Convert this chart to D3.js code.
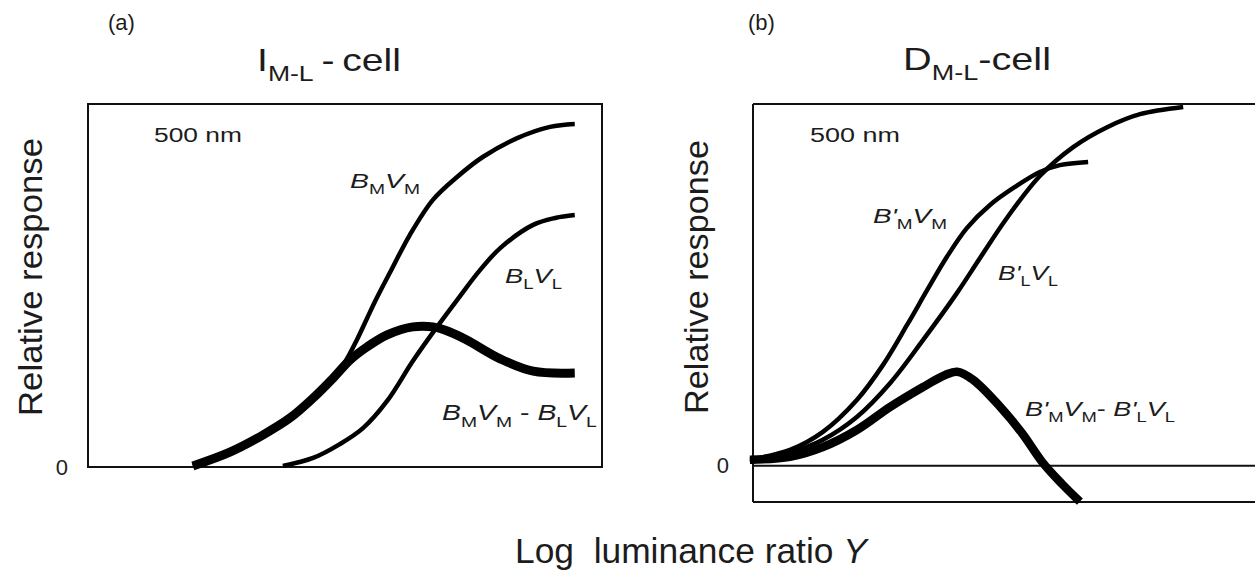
<!DOCTYPE html>
<meta charset="utf-8">
<script src="https://d3js.org/d3.v7.min.js"></script>
<style>
  body { margin: 0; background: #fff; }
  text { font-family: "Liberation Sans", Arial, sans-serif; fill: #1c1c1c; }
</style>
<div id="chart"></div>
<script>

// panel (a) I(M-L)-cell : x = log luminance ratio (box units 0-100), y = relative response (0-100)
const a_bmvm_x = [20.4, 27.6, 34.0, 39.3, 43.8, 47.7, 50.0, 52.3, 54.3, 56.2, 58.8, 62.6, 67.1, 71.8, 76.8, 83.5, 89.9, 94.7];
const a_bmvm_y = [0.3, 4.1, 8.8, 13.5, 19.0, 24.5, 28.9, 35.0, 41.0, 46.6, 53.7, 63.9, 73.6, 79.9, 85.4, 90.6, 93.7, 94.5];
const a_blvl_x = [37.9, 43.8, 49.0, 53.5, 58.2, 63.2, 67.9, 71.8, 76.3, 80.2, 86.6, 90.9, 94.7];
const a_blvl_y = [0.3, 2.5, 6.3, 10.7, 18.2, 29.2, 38.6, 46.0, 54.3, 60.3, 66.7, 68.6, 69.4];
const a_diff_x = [20.4, 27.6, 34.0, 39.3, 43.8, 47.7, 51.0, 54.3, 58.2, 63.2, 67.1, 70.4, 73.7, 80.2, 86.6, 94.7];
const a_diff_y = [0.3, 4.1, 8.8, 13.5, 19.0, 24.5, 29.5, 33.1, 36.4, 38.6, 38.6, 37.2, 35.0, 29.8, 26.4, 25.9];

// panel (b) D(M-L)-cell
const b_bmvm_x = [-0.6, 7.2, 13.6, 20.2, 25.3, 30.0, 33.9, 37.7, 41.6, 46.1, 51.0, 55.8, 59.7, 65.2];
const b_bmvm_y = [1.7, 4.4, 9.4, 18.2, 27.9, 39.0, 48.6, 57.7, 65.7, 72.1, 77.1, 81.2, 83.1, 84.0];
const b_blvl_x = [-0.6, 7.2, 13.6, 20.2, 26.7, 33.1, 39.7, 44.2, 49.4, 55.8, 62.3, 68.9, 75.3, 83.7];
const b_blvl_y = [1.1, 3.6, 7.2, 13.5, 22.9, 34.8, 47.8, 57.5, 68.5, 80.1, 88.1, 93.6, 97.2, 99.2];
const b_diff_x = [-0.6, 7.2, 13.6, 20.2, 26.7, 33.1, 37.4, 39.7, 42.8, 48.1, 52.3, 56.4, 60.1, 63.6];
const b_diff_y = [1.7, 2.5, 5.2, 9.9, 16.3, 21.8, 25.1, 26.0, 23.8, 16.3, 9.1, 0.8, -5.0, -9.9];

const zeroTick = [0];

var W = 1255, H = 572;

var svg = d3.select("#chart").append("svg")
    .attr("width", W)
    .attr("height", H);

svg.append("rect").attr("width", W).attr("height", H).attr("fill", "#fff");

var xa = d3.scaleLinear().domain([0, 100]).range([88, 602]);
var ya = d3.scaleLinear().domain([0, 100]).range([467, 104]);
var xb = d3.scaleLinear().domain([0, 100]).range([753, 1267]);
var yb = d3.scaleLinear().domain([-10, 100]).range([502, 104]);

function zip(xs, ys) { return xs.map((x, i) => [x, ys[i]]); }

// text with subscripts, stretched horizontally to the width seen in the picture
// parts: [string, kind]  kind: n normal, i italic, s subscript
function label(x, y, parts, size, width, opts) {
  opts = opts || {};
  var g = svg.append("g");
  var t = g.append("text").attr("font-size", size);
  if (opts.anchor) t.attr("text-anchor", opts.anchor);
  var down = 0;
  parts.forEach(function(p) {
    var ts = t.append("tspan").text(p[0]);
    if (p[1] == "i") ts.attr("font-style", "italic");
    if (p[1] == "s") {
      ts.attr("font-size", size * 0.68).attr("dy", size * 0.3 - down);
      down = size * 0.3;
    } else if (down) {
      ts.attr("dy", -down);
      down = 0;
    }
  });
  var w = t.node().getComputedTextLength();
  var sx = width ? width / w : 1;
  var rot = opts.rotate ? " rotate(" + opts.rotate + ")" : "";
  g.attr("transform", "translate(" + x + "," + y + ")" + rot + " scale(" + sx + ",1)");
  return g;
}

var lineA = d3.line().x(d => xa(d[0])).y(d => ya(d[1])).curve(d3.curveCatmullRom.alpha(0.5));
var lineB = d3.line().x(d => xb(d[0])).y(d => yb(d[1])).curve(d3.curveCatmullRom.alpha(0.5));

// ---- panel (a)
svg.append("rect")
  .attr("x", xa(0)).attr("y", ya(100))
  .attr("width", xa(100) - xa(0)).attr("height", ya(0) - ya(100))
  .attr("fill", "none").attr("stroke", "#111").attr("stroke-width", 2);

svg.append("path").datum(zip(a_diff_x, a_diff_y)).attr("d", lineA)
  .attr("fill", "none").attr("stroke", "#000").attr("stroke-width", 9);
svg.append("path").datum(zip(a_bmvm_x, a_bmvm_y)).attr("d", lineA)
  .attr("fill", "none").attr("stroke", "#000").attr("stroke-width", 4.5);
svg.append("path").datum(zip(a_blvl_x, a_blvl_y)).attr("d", lineA)
  .attr("fill", "none").attr("stroke", "#000").attr("stroke-width", 4.5);

svg.append("g")
  .attr("transform", "translate(" + xa(0) + ",0)")
  .call(d3.axisLeft(ya).tickValues(zeroTick).tickSize(0).tickPadding(20))
  .call(g => g.select(".domain").remove())
  .selectAll("text").attr("font-family", null).style("font-size", "22px").style("fill", "#222");

// ---- panel (b)
[[100, 100], [0, 0], [-10, -10]].forEach(function(v) {
  svg.append("line")
    .attr("x1", xb(0)).attr("x2", xb(100)).attr("y1", yb(v[0])).attr("y2", yb(v[1]))
    .attr("stroke", "#111").attr("stroke-width", 2);
});
svg.append("line")
  .attr("x1", xb(0)).attr("x2", xb(0)).attr("y1", yb(100)).attr("y2", yb(-10))
  .attr("stroke", "#111").attr("stroke-width", 2);

svg.append("path").datum(zip(b_diff_x, b_diff_y)).attr("d", lineB)
  .attr("fill", "none").attr("stroke", "#000").attr("stroke-width", 8.5);
svg.append("path").datum(zip(b_bmvm_x, b_bmvm_y)).attr("d", lineB)
  .attr("fill", "none").attr("stroke", "#000").attr("stroke-width", 4.5);
svg.append("path").datum(zip(b_blvl_x, b_blvl_y)).attr("d", lineB)
  .attr("fill", "none").attr("stroke", "#000").attr("stroke-width", 4.5);

svg.append("g")
  .attr("transform", "translate(" + xb(0) + ",0)")
  .call(d3.axisLeft(yb).tickValues(zeroTick).tickSize(0).tickPadding(24))
  .call(g => g.select(".domain").remove())
  .selectAll("text").attr("font-family", null).style("font-size", "22px").style("fill", "#222");

// ---- texts
label(108, 30, [["(a)", "n"]], 22);
label(748, 30, [["(b)", "n"]], 22);

label(257, 71, [["I", "n"], ["M-L", "s"], ["\u2009-\u2009cell", "n"]], 32, 144);
label(903, 70, [["D", "n"], ["M-L", "s"], ["-cell", "n"]], 32, 148);

label(154, 142, [["500 nm", "n"]], 21, 88);
label(810, 142, [["500 nm", "n"]], 21, 90);

label(42, 277, [["Relative response", "n"]], 34, 278, {anchor: "middle", rotate: -90});
label(708, 277, [["Relative response", "n"]], 34, 274, {anchor: "middle", rotate: -90});

label(515, 563, [["Log\u00a0 luminance ratio ", "n"], ["Y", "i"]], 36, 352);

// curve names, panel (a)
label(350, 188, [["B", "i"], ["M", "s"], ["V", "i"], ["M", "s"]], 21, 70);
label(505, 283, [["B", "i"], ["L", "s"], ["V", "i"], ["L", "s"]], 21, 57);
label(442, 420, [["B", "i"], ["M", "s"], ["V", "i"], ["M", "s"], ["\u00a0- ", "n"],
                 ["B", "i"], ["L", "s"], ["V", "i"], ["L", "s"]], 22, 155);

// curve names, panel (b)
label(873, 223, [["B'", "i"], ["M", "s"], ["V", "i"], ["M", "s"]], 21, 74);
label(998, 280, [["B'", "i"], ["L", "s"], ["V", "i"], ["L", "s"]], 21, 60);
label(1025, 416, [["B'", "i"], ["M", "s"], ["V", "i"], ["M", "s"], ["- ", "n"],
                  ["B'", "i"], ["L", "s"], ["V", "i"], ["L", "s"]], 21, 150);

</script>
